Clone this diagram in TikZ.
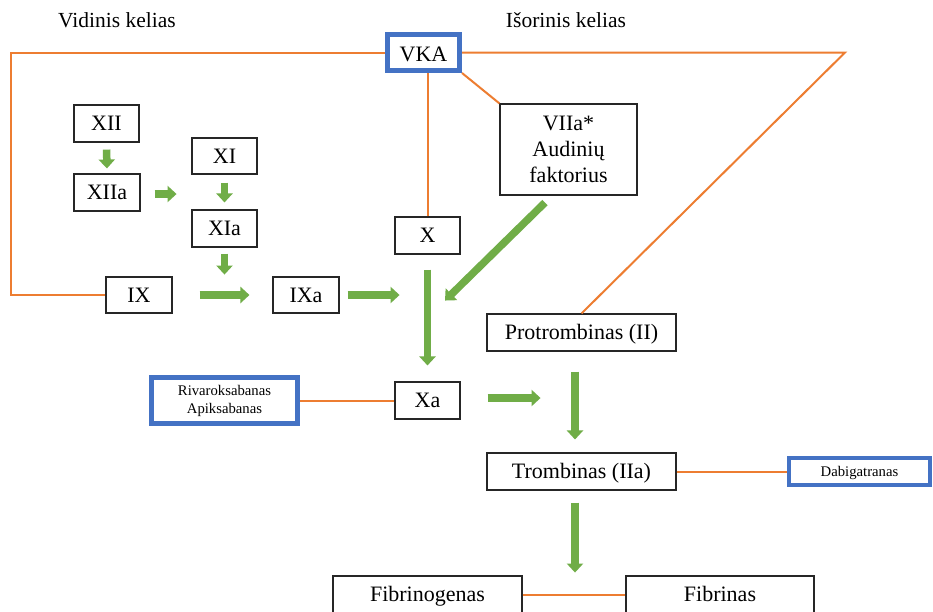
\documentclass[tikz,border=0pt]{standalone}
\usepackage{fontspec}
\setmainfont{Liberation Serif}
\usetikzlibrary{arrows.meta,calc}
\definecolor{og}{HTML}{ED7D31}
\definecolor{gr}{HTML}{70AD47}
\definecolor{bl}{HTML}{4472C4}
\begin{document}
\begin{tikzpicture}[x=1pt,y=-1pt,
  box/.style={draw=black!85, line width=1.1pt, fill=white, inner sep=0pt, align=center, font=\fontsize{22}{26}\selectfont},
  one/.style={box, text height=16pt, text depth=2pt},
  bbox/.style={draw=bl, line width=5pt, fill=white, inner sep=0pt, align=center},
  small/.style={font=\fontsize{14.7}{18}\selectfont},
  title/.style={anchor=base, inner sep=0pt, font=\fontsize{21.5}{24}\selectfont},
  oline/.style={draw=og, line width=2pt},
  garrow/.style={draw=gr, line width=7.5pt, -{Triangle[width=16pt,length=9pt]}}]
\clip (0,0) rectangle (933,611);
\fill[white] (0,0) rectangle (933,611);
% titles
\node[title] (vid) at (117,27) {Vidinis kelias};
\node[title] (isor) at (566,27) {Išorinis kelias};
% nodes
\node[bbox, minimum width=72pt, minimum height=36pt, font=\fontsize{22}{26}\selectfont, text height=17pt, text depth=0pt] (VKA) at (423.5,52.5) {VKA};
\node[one, minimum width=65pt, minimum height=37pt] (XII) at (106.5,123.5) {XII};
\node[one, minimum width=66pt, minimum height=37pt] (XIIa) at (107,192.5) {XIIa};
\node[one, minimum width=65pt, minimum height=36pt] (XI) at (224.5,156) {XI};
\node[one, minimum width=65pt, minimum height=37pt] (XIa) at (224.5,228.5) {XIa};
\node[one, minimum width=66pt, minimum height=36pt] (IX) at (139,295) {IX};
\node[one, minimum width=66pt, minimum height=36pt] (IXa) at (306,295) {IXa};
\node[one, minimum width=65pt, minimum height=37pt] (X) at (427.5,235.5) {X};
\node[box, minimum width=137pt, minimum height=91pt] (VIIa) at (568.5,149.5) {VIIa*\\Audinių\\faktorius};
\node[one, minimum width=189pt, minimum height=37pt] (Pro) at (581.5,332.5) {Protrombinas (II)};
\node[one, minimum width=189pt, minimum height=37pt] (Tro) at (581.5,471.5) {Trombinas (IIa)};
\node[one, minimum width=65pt, minimum height=37pt] (Xa) at (427.5,400.5) {Xa};
\node[one, minimum width=189pt, minimum height=37pt] (Fgen) at (427.5,594.5) {Fibrinogenas};
\node[one, minimum width=188pt, minimum height=37pt] (Fin) at (720,594.5) {Fibrinas};
\node[bbox, small, minimum width=146pt, minimum height=46pt] (Riv) at (224.5,400.5) {Rivaroksabanas\\Apiksabanas};
\node[bbox, small, line width=4.5pt, minimum width=141pt, minimum height=27pt, text height=10.5pt, text depth=0pt] (Dab) at (859.5,471.5) {Dabigatranas};
% orange connectors
\coordinate (L) at (11,52.5);
\coordinate (R) at (845,52.5);
\draw[oline] (VKA.west) -- (L) |- (IX.west);
\draw[oline] (VKA.east) -- (R) -- (Pro.north);
\draw[oline] (VKA.south east) -- (VIIa.north west);
\draw[oline] (X.north) -- (X.north |- VKA.south);
\draw[oline] (Riv.east) -- (Xa.west);
\draw[oline] (Tro.east) -- (Dab.west);
\draw[oline] (Fgen.east) -- (Fin.west);
% green arrows
\draw[garrow, shorten <=7pt, shorten >=5pt] (XII.south) -- (XIIa.north);
\draw[garrow] ($(XIIa.east)+(14,1.5)$) -- ++(22,0);
\draw[garrow, shorten <=8pt, shorten >=7pt] (XI.south) -- (XIa.north);
\draw[garrow] ($(XIa.south)+(0,6)$) -- ++(0,21);
\draw[garrow, shorten <=27pt, shorten >=23pt] (IX.east) -- (IXa.west);
\draw[garrow] ($(IXa.east)+(8,0)$) -- ++(52,0);
\draw[garrow, shorten <=15pt, shorten >=16pt] (X.south) -- (Xa.north);
\coordinate (d1) at ($(VIIa.south)+(-23.5,7)$);
\coordinate (d2) at ($(X.south)+(17.5,46)$);
\draw[garrow] (d1) -- (d2);
\draw[garrow] ($(Xa.east)+(27,-2.5)$) -- ++(53,0);
\draw[garrow, shorten <=20pt, shorten >=13pt] ([xshift=-6.5pt]Pro.south) -- ([xshift=-6.5pt]Tro.north);
\draw[garrow] ($(Tro.south)+(-6.5,12)$) -- ++(0,70);
\end{tikzpicture}
\end{document}
